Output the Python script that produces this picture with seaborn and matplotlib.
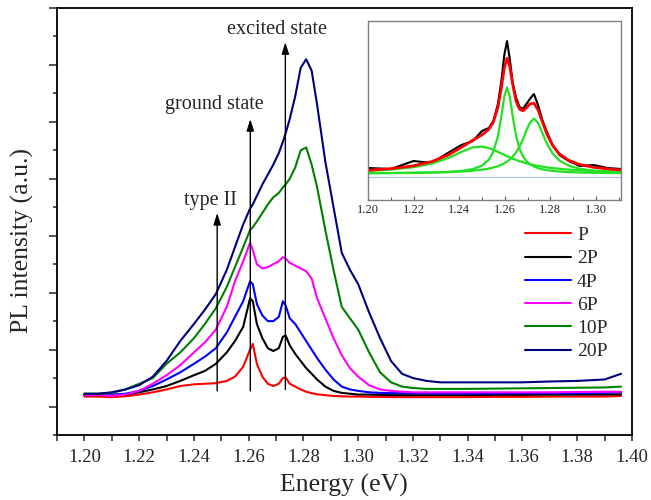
import matplotlib
matplotlib.use("Agg")
import matplotlib.pyplot as plt
from matplotlib.ticker import MultipleLocator, FormatStrFormatter, NullLocator
import seaborn as sns

# ---- PL spectra (energy in eV, intensity in arbitrary units) ----
energy = [1.200, 1.205, 1.210, 1.215, 1.220, 1.225, 1.230, 1.235, 1.240, 1.244,
          1.248, 1.252, 1.255, 1.258, 1.2605, 1.2615, 1.263, 1.265, 1.267, 1.269,
          1.271, 1.2725, 1.2735, 1.275, 1.277, 1.279, 1.281, 1.283, 1.285, 1.288,
          1.291, 1.294, 1.297, 1.300, 1.304, 1.308, 1.312, 1.316, 1.320, 1.325,
          1.330, 1.340, 1.350, 1.360, 1.370, 1.380, 1.390, 1.396]

pl_P = [1.35, 1.35, 1.33, 1.36, 1.42, 1.50, 1.60, 1.72, 1.78, 1.80,
        1.82, 1.90, 2.05, 2.40, 3.00, 3.20, 2.50, 2.05, 1.80, 1.72,
        1.80, 2.00, 2.02, 1.80, 1.70, 1.60, 1.52, 1.47, 1.43, 1.40,
        1.37, 1.36, 1.35, 1.35, 1.34, 1.34, 1.33, 1.33, 1.33, 1.33,
        1.33, 1.33, 1.34, 1.34, 1.35, 1.35, 1.35, 1.37]

pl_2P = [1.40, 1.40, 1.40, 1.42, 1.50, 1.60, 1.72, 1.90, 2.10, 2.25,
         2.50, 2.90, 3.30, 3.80, 4.80, 4.70, 3.90, 3.40, 3.05, 2.95,
         3.05, 3.45, 3.50, 3.15, 2.85, 2.60, 2.35, 2.15, 1.95, 1.70,
         1.55, 1.48, 1.45, 1.42, 1.42, 1.41, 1.40, 1.40, 1.40, 1.40,
         1.40, 1.40, 1.41, 1.41, 1.42, 1.42, 1.42, 1.43]

pl_4P = [1.42, 1.42, 1.42, 1.45, 1.55, 1.72, 1.95, 2.20, 2.50, 2.75,
         3.05, 3.60, 4.15, 4.70, 5.40, 5.30, 4.60, 4.20, 4.00, 4.00,
         4.15, 4.70, 4.55, 4.10, 3.90, 3.60, 3.30, 3.00, 2.70, 2.30,
         1.95, 1.70, 1.60, 1.55, 1.50, 1.48, 1.47, 1.47, 1.47, 1.46,
         1.46, 1.46, 1.46, 1.47, 1.47, 1.47, 1.48, 1.50]

pl_6P = [1.40, 1.40, 1.38, 1.42, 1.55, 1.80, 2.10, 2.45, 2.90, 3.25,
         3.70, 4.50, 5.40, 6.10, 6.75, 6.50, 6.00, 5.85, 5.90, 6.00,
         6.10, 6.25, 6.20, 6.05, 5.95, 5.85, 5.75, 5.50, 4.80, 4.10,
         3.40, 2.80, 2.35, 2.05, 1.75, 1.60, 1.55, 1.52, 1.50, 1.50,
         1.50, 1.50, 1.50, 1.50, 1.50, 1.51, 1.52, 1.52]

pl_10P = [1.45, 1.45, 1.48, 1.60, 1.80, 2.00, 2.50, 2.90, 3.40, 3.90,
          4.45, 5.20, 5.90, 6.60, 7.20, 7.30, 7.50, 7.80, 8.10, 8.35,
          8.50, 8.70, 8.80, 9.00, 9.40, 10.00, 10.10, 9.50, 8.70, 7.20,
          5.80, 4.50, 4.10, 3.70, 2.90, 2.20, 1.85, 1.70, 1.65, 1.62,
          1.62, 1.62, 1.63, 1.64, 1.65, 1.66, 1.67, 1.70]

pl_20P = [1.45, 1.45, 1.50, 1.60, 1.75, 2.05, 2.60, 3.30, 3.90, 4.40,
          4.95, 5.80, 6.60, 7.40, 7.95, 8.10, 8.40, 8.80, 9.15, 9.50,
          9.90, 10.30, 10.60, 11.10, 11.90, 12.90, 13.20, 12.80, 11.60, 9.60,
          8.00, 6.40, 5.80, 5.30, 4.30, 3.40, 2.60, 2.15, 2.00, 1.90,
          1.85, 1.85, 1.85, 1.85, 1.88, 1.90, 1.95, 2.15]

series_labels = ["P", "2P", "4P", "6P", "10P", "20P"]
series_values = [pl_P, pl_2P, pl_4P, pl_6P, pl_10P, pl_20P]
series_colors = ["#ff0000", "#000000", "#0000ff", "#ff00ff", "#008000", "#000080"]

# ---- peak assignments ----
marker_labels = ["type II", "ground state", "excited state"]
marker_energy = [1.2485, 1.2606, 1.2734]
marker_bottom = [1.55, 1.55, 1.60]
marker_top = [7.8, 11.1, 13.8]
label_x = [1.2460, 1.2474, 1.2704]
label_y = [8.25, 11.6, 14.25]

# ---- inset: P spectrum with three-component fit ----
fit_energy = [1.200, 1.210, 1.220, 1.228, 1.235, 1.241, 1.246, 1.250, 1.253, 1.255,
              1.257, 1.2585, 1.2598, 1.261, 1.2622, 1.2635, 1.265, 1.2665, 1.268, 1.2695,
              1.271, 1.2728, 1.2746, 1.2765, 1.2785, 1.281, 1.284, 1.288, 1.293, 1.299,
              1.305, 1.311]
measured_P = [0.90, 0.80, 1.60, 1.40, 2.40, 3.20, 3.60, 4.60, 4.90, 5.60,
              7.30, 9.60, 12.20, 13.60, 11.80, 9.40, 7.90, 7.00, 6.80, 7.30,
              7.80, 8.30, 7.20, 5.70, 4.50, 3.20, 2.20, 1.60, 1.10, 1.20,
              0.90, 0.80]
fit_total = [0.68, 0.83, 1.12, 1.54, 2.18, 2.97, 3.68, 4.21, 4.76, 5.50,
             6.97, 8.91, 10.92, 11.87, 11.05, 9.22, 7.56, 6.77, 6.63, 6.91,
             7.30, 7.39, 6.71, 5.51, 4.28, 3.15, 2.30, 1.67, 1.24, 0.97,
             0.81, 0.70]
fit_type2 = [0.61, 0.74, 0.98, 1.34, 1.88, 2.51, 2.96, 3.04, 2.89, 2.72,
             2.51, 2.35, 2.21, 2.08, 1.96, 1.83, 1.70, 1.58, 1.47, 1.37,
             1.28, 1.19, 1.11, 1.03, 0.96, 0.89, 0.82, 0.74, 0.67, 0.60,
             0.55, 0.52]
fit_ground = [0.38, 0.39, 0.41, 0.45, 0.50, 0.61, 0.79, 1.14, 1.73, 2.53,
              4.08, 6.05, 8.05, 8.95, 8.05, 6.05, 4.08, 2.83, 2.07, 1.60,
              1.29, 1.05, 0.88, 0.77, 0.68, 0.61, 0.55, 0.49, 0.45, 0.42,
              0.40, 0.39]
fit_excited = [0.39, 0.40, 0.43, 0.45, 0.49, 0.55, 0.63, 0.73, 0.84, 0.95,
               1.08, 1.22, 1.37, 1.54, 1.75, 2.04, 2.48, 3.06, 3.79, 4.64,
               5.42, 5.85, 5.42, 4.41, 3.33, 2.35, 1.64, 1.14, 0.82, 0.64,
               0.55, 0.49]

sns.set_style("ticks")
plt.rcParams["font.family"] = ["Liberation Serif", "DejaVu Serif"]

W, H = 651, 500
fig = plt.figure(figsize=(W / 100, H / 100), dpi=100)
ax = fig.add_axes([57 / W, 65 / H, 575 / W, 427 / H])

for label, values, color in zip(series_labels, series_values, series_colors):
    sns.lineplot(x=energy, y=values, color=color, linewidth=1.5, label=label,
                 ax=ax, sort=False, estimator=None)

ax.set_xlim(1.19, 1.40)
ax.set_ylim(0, 15)
ax.xaxis.set_major_locator(MultipleLocator(0.02))
ax.xaxis.set_minor_locator(MultipleLocator(0.01))
ax.xaxis.set_major_formatter(FormatStrFormatter("%.2f"))
ax.yaxis.set_major_locator(MultipleLocator(2, offset=1))
ax.yaxis.set_minor_locator(MultipleLocator(1))
ax.tick_params(axis="y", labelleft=False)
ax.tick_params(axis="x", which="both", direction="out", length=4, width=1.1,
               labelsize=13.5, pad=6)
ax.tick_params(axis="y", which="major", direction="out", length=6, width=1.1)
ax.tick_params(axis="y", which="minor", direction="out", length=3, width=1.1)
for side in ["left", "right", "top", "bottom"]:
    ax.spines[side].set_visible(True)
    ax.spines[side].set_linewidth(1.3)
    ax.spines[side].set_color("black")

ax.set_xlabel("Energy (eV)", fontsize=18.5)
ax.set_ylabel("PL intensity (a.u.)", fontsize=18.5)
ax.xaxis.set_label_coords(0.499, -0.092)
ax.yaxis.set_label_coords(-0.040, 0.455)

for text, x, y0, y1, tx, ty in zip(marker_labels, marker_energy, marker_bottom,
                                   marker_top, label_x, label_y):
    ax.annotate("", xy=(x, y1), xytext=(x, y0),
                arrowprops=dict(arrowstyle="-|>,head_length=0.7,head_width=0.22",
                                color="black", lw=1.0, shrinkA=0, shrinkB=0,
                                mutation_scale=10))
    ax.text(tx, ty, text, ha="center", va="center", fontsize=14.5)

handles, labels = ax.get_legend_handles_labels()
ax.legend(handles, labels, loc="center left",
          bbox_to_anchor=(525 / W, 1 - 293.5 / H), bbox_transform=fig.transFigure,
          frameon=False, fontsize=14, handlelength=2.37, handletextpad=0.31,
          labelspacing=0.29, borderpad=0, borderaxespad=0)

# inset
ins = fig.add_axes([368 / W, 300 / H, 253 / W, 179 / H])
ins.set_facecolor("white")
ins.axhline(0, color="#aab4ff", linewidth=0.8)
sns.lineplot(x=fit_energy, y=measured_P, color="black", linewidth=1.5, ax=ins,
             sort=False, estimator=None)
for comp in [fit_type2, fit_ground, fit_excited]:
    sns.lineplot(x=fit_energy, y=comp, color="#22e022", linewidth=1.6, ax=ins,
                 sort=False, estimator=None)
sns.lineplot(x=fit_energy, y=fit_total, color="#ff0000", linewidth=2.0, ax=ins,
             sort=False, estimator=None)
ins.set_xlim(1.20, 1.311)
ins.set_ylim(-2.3, 15.6)
ins.xaxis.set_major_locator(MultipleLocator(0.02))
ins.xaxis.set_minor_locator(MultipleLocator(0.01))
ins.xaxis.set_major_formatter(FormatStrFormatter("%.2f"))
ins.yaxis.set_major_locator(NullLocator())
ins.yaxis.set_minor_locator(NullLocator())
ins.tick_params(axis="x", which="major", direction="in", length=3, width=0.8,
                color="#606060", labelsize=9, pad=3)
ins.tick_params(axis="x", which="minor", direction="in", length=2, width=0.8,
                color="#606060")
ins.set_xlabel("")
ins.set_ylabel("")
for side in ["left", "right", "top", "bottom"]:
    ins.spines[side].set_visible(True)
    ins.spines[side].set_color("#808080")
    ins.spines[side].set_linewidth(1.0)
if ins.get_legend() is not None:
    ins.get_legend().remove()

fig.savefig("out.png", dpi=100)
